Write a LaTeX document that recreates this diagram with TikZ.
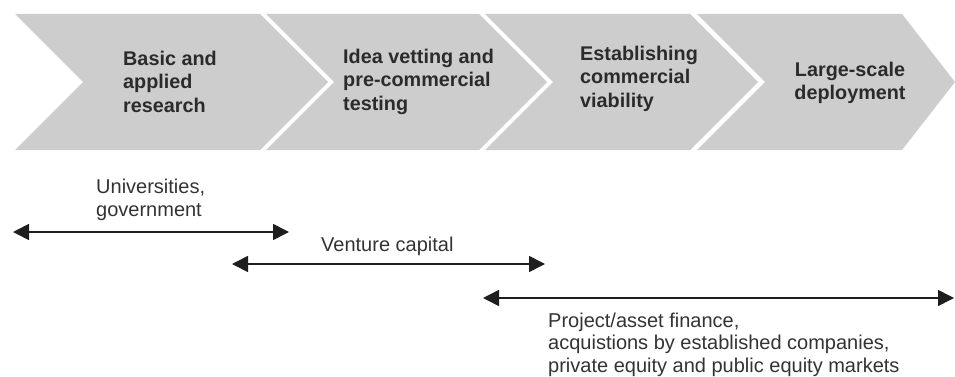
\documentclass[tikz,border=0pt]{standalone}
\usepackage{fontspec}
\setmainfont{Liberation Sans}
\usetikzlibrary{arrows.meta}
\definecolor{chev}{HTML}{CDCDCD}
\definecolor{btxt}{HTML}{2B2B2B}
\definecolor{rtxt}{HTML}{333333}
\definecolor{arr}{HTML}{1E1E1E}
\tikzset{
  chevron/.style={fill=chev, draw=none},
  stage/.style={inner sep=0pt, text=btxt, align=left, anchor=north west,
    font=\fontsize{19.8}{23.5}\selectfont\bfseries},
  actor/.style={inner sep=0pt, text=rtxt, align=left, anchor=north west,
    font=\fontsize{20}{22.5}\selectfont},
  span/.style={draw=arr, line width=1.6pt,
    {Triangle[length=16pt,width=16pt]}-{Triangle[length=16pt,width=16pt]}}
}
\begin{document}
\begin{tikzpicture}[x=1pt,y=-1pt]
\useasboundingbox (0,0) rectangle (955,377);
% chevrons
\path[chevron] (15,14) -- (260,14) -- (328,82) -- (260,150) -- (15,150) -- (83,82) -- cycle;
\path[chevron] (266,14) -- (479,14) -- (547,82) -- (479,150) -- (266,150) -- (334,82) -- cycle;
\path[chevron] (485,14) -- (690,14) -- (758,82) -- (690,150) -- (485,150) -- (553,82) -- cycle;
\path[chevron] (697,14) -- (902,14) -- (955,82) -- (902,150) -- (697,150) -- (765,82) -- cycle;
% stage labels
\node[stage] (s1) at (123,50.5) {Basic and\\applied\\research};
\node[stage] (s2) at (343,48.5) {Idea vetting and\\pre-commercial\\testing};
\node[stage] (s3) at (580,45.5) {Establishing\\commercial\\viability};
\node[stage, anchor=north, align=center] (s4) at (850,61.5) {Large-scale\\deployment};
% actors
\node[actor] (univ) at (96,179) {Universities,\\government};
\node[actor, anchor=base west] (vc) at (321,251) {Venture capital};
\node[actor] (proj) at (548,312.5) {Project/asset finance,\\acquistions by established companies,\\private equity and public equity markets};
% spans
\coordinate (a1l) at (13,232);
\coordinate (a1r) at (289,232);
\coordinate (a2l) at (232,264);
\coordinate (a2r) at (545,264);
\coordinate (a3l) at (483,298);
\coordinate (a3r) at (954,298);
\draw[span] (a1l) -- (a1r);
\draw[span] (a2l) -- (a2r);
\draw[span] (a3l) -- (a3r);
\end{tikzpicture}
\end{document}
